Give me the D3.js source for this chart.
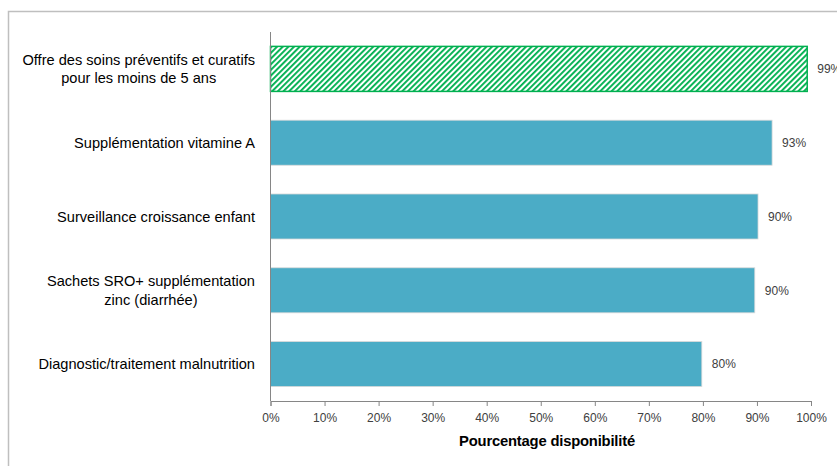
<!DOCTYPE html>
<html><head><meta charset="utf-8">
<script src="https://cdn.jsdelivr.net/npm/d3@7"></script>
<style>body{margin:0;background:#fff}svg{display:block}</style>
</head><body>
<script>
const categories = [
  ["Offre des soins préventifs et curatifs", "pour les moins de 5 ans"],
  ["Supplémentation vitamine A"],
  ["Surveillance croissance enfant"],
  ["Sachets SRO+ supplémentation", "zinc (diarrhée)"],
  ["Diagnostic/traitement malnutrition"]
];
const values = [0.993, 0.928, 0.902, 0.896, 0.798];
const highlight = [true, false, false, false, false];
const xTicks = [0, 0.1, 0.2, 0.3, 0.4, 0.5, 0.6, 0.7, 0.8, 0.9, 1.0];
const xTitle = "Pourcentage disponibilité";

const W = 837, H = 466;
const svg = d3.select("body").append("svg").attr("width", W).attr("height", H);
const font = "'Liberation Sans', Arial, sans-serif";

const defs = svg.append("defs");
const pat = defs.append("pattern").attr("id", "hatch").attr("patternUnits", "userSpaceOnUse")
  .attr("width", 4).attr("height", 4).attr("patternTransform", "rotate(45)");
pat.append("rect").attr("width", 4).attr("height", 4).attr("fill", "#fff");
pat.append("rect").attr("x", 0).attr("y", 0).attr("width", 1.9).attr("height", 4).attr("fill", "#00B050");

// frame
svg.append("rect").attr("x", 8.5).attr("y", 11.5).attr("width", 900).attr("height", 600)
  .attr("fill", "none").attr("stroke", "#BFBFBF").attr("stroke-width", 1.5);

const x = d3.scaleLinear().domain([0, 1]).range([270.5, 811]);
const y = d3.scaleBand().domain(d3.range(categories.length)).range([32, 401]).paddingInner(0.39).paddingOuter(0.195);

// bars
svg.selectAll("rect.bar").data(values).join("rect").attr("class", "bar")
  .attr("x", x(0)).attr("y", (d, i) => y(i))
  .attr("width", d => x(d) - x(0)).attr("height", y.bandwidth())
  .attr("fill", (d, i) => highlight[i] ? "url(#hatch)" : "#4BACC6")
  .attr("stroke", (d, i) => highlight[i] ? "#00B050" : "#D9D9D9")
  .attr("stroke-width", (d, i) => highlight[i] ? 1.5 : 0.8);

// value labels
svg.selectAll("text.val").data(values).join("text").attr("class", "val")
  .attr("x", d => x(d) + 10).attr("y", (d, i) => y(i) + y.bandwidth() / 2)
  .attr("dy", "0.35em").attr("font-family", font).attr("font-size", 12).attr("fill", "#404040")
  .text(d => d3.format(".0%")(d));

// x axis
const xa = svg.append("g").attr("transform", "translate(0,401)")
  .call(d3.axisBottom(x).tickValues(xTicks).tickFormat(d3.format(".0%")).tickSize(5).tickPadding(7));
xa.select(".domain").attr("stroke", "#868686");
xa.selectAll(".tick line").attr("stroke", "#868686");
xa.selectAll(".tick text").attr("font-family", font).attr("font-size", 12).attr("fill", "#404040");

// y axis line
svg.append("line").attr("x1", 270.5).attr("x2", 270.5).attr("y1", 32).attr("y2", 401).attr("stroke", "#868686");

// category labels
const cat = svg.selectAll("text.cat").data(categories).join("text").attr("class", "cat")
  .attr("font-family", font).attr("font-size", 14.6).attr("fill", "#000")
  .attr("text-anchor", "middle");
cat.each(function(lines, i) {
  const t = d3.select(this);
  const cy = y(i) + y.bandwidth() / 2;
  const lh = 18.5;
  lines.forEach((ln, j) => {
    t.append("tspan").attr("y", cy + (j - (lines.length - 1) / 2) * lh).attr("dy", "0.35em").text(ln);
  });
});
// right-align blocks at x=255, centre lines within the block
cat.each(function() {
  const t = d3.select(this);
  const tsp = t.selectAll("tspan").nodes();
  const wmax = d3.max(tsp, n => n.getComputedTextLength());
  tsp.forEach(n => d3.select(n).attr("x", 255 - wmax / 2));
});

// axis title
svg.append("text").attr("x", 547).attr("y", 441).attr("dy", "0.35em").attr("text-anchor", "middle")
  .attr("font-family", font).attr("font-size", 14.8).attr("font-weight", "bold").attr("fill", "#000")
  .attr("letter-spacing", -0.2)
  .text(xTitle);
</script>
</body></html>
